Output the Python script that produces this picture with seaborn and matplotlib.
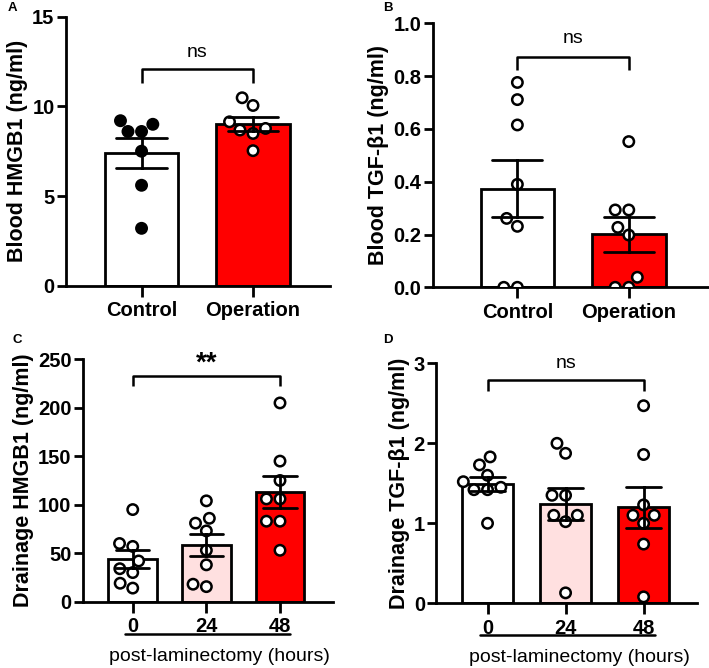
import numpy as np
import pandas as pd
import matplotlib
matplotlib.use("Agg")
import matplotlib.pyplot as plt
import matplotlib.transforms as mtrans
import seaborn as sns

# ---------------- data ----------------
a_groups = ["Control", "Operation"]
a_control = [9.0, 9.2, 8.6, 8.6, 7.5, 5.6, 3.2]
a_operation = [10.05, 10.48, 9.14, 8.68, 8.49, 8.77, 7.53]

b_groups = ["Control", "Operation"]
b_control = [0.776, 0.711, 0.615, 0.39, 0.231, 0.261, 0.0, 0.0]
b_operation = [0.552, 0.293, 0.293, 0.227, 0.198, 0.038, 0.0, 0.0]

c_groups = ["0", "24", "48"]
c_0 = [95, 57, 60, 42, 30, 34, 19, 14]
c_24 = [104, 86, 81, 73, 53, 38, 15.5, 18]
c_48 = [205, 145, 125, 106, 106, 83, 83, 53]

d_groups = ["0", "24", "48"]
d_0 = [1.83, 1.73, 1.6, 1.52, 1.42, 1.42, 1.45, 1.0]
d_24 = [2.0, 1.875, 1.35, 1.35, 1.1, 1.1, 1.02, 0.13]
d_48 = [2.47, 1.86, 1.23, 1.1, 1.1, 1.0, 0.74, 0.08]

y_labels = ["Blood HMGB1 (ng/ml)", "Blood TGF-\u03b21 (ng/ml)",
            "Drainage HMGB1 (ng/ml)", "Drainage TGF-\u03b21 (ng/ml)"]
panel_letters = ["A", "B", "C", "D"]
sig_labels = ["ns", "ns", "**", "ns"]
x_title = "post-laminectomy (hours)"

RED = "#FF0000"
PINK = "#FFE0E0"

sns.set_theme(style="ticks")
plt.rcParams["font.family"] = ["Liberation Sans", "DejaVu Sans"]

fig = plt.figure(figsize=(7.09, 6.68), dpi=100)


def make_df(groups, values):
    rows = []
    for g, vals in zip(groups, values):
        for v in vals:
            rows.append({"group": g, "value": v})
    return pd.DataFrame(rows)


def panel(rect, groups, values, bar_colors, point_colors, ylim, yticks,
          ytick_fmt, xlim, ylabel, sig, sig_y, leg_y, text_y,
          sig_bold, bottom_title=False):
    ax = fig.add_axes(rect)
    df = make_df(groups, values)
    pal = dict(zip(groups, bar_colors))
    sns.barplot(data=df, x="group", y="value", hue="group", order=groups,
                palette=pal, saturation=1, errorbar="se", capsize=0.45,
                width=0.66, edgecolor="black", linewidth=2.0, legend=False,
                err_kws={"linewidth": 2.0, "color": "black"}, ax=ax)
    err_lines = list(ax.lines)
    ppal = dict(zip(groups, point_colors))
    sns.swarmplot(data=df, x="group", y="value", hue="group", order=groups,
                  palette=ppal, size=7.5, edgecolor="black", linewidth=1.8,
                  legend=False, ax=ax, zorder=3)
    for ln in err_lines:
        ln.set_zorder(4)
    ax.set_xlim(*xlim)
    ax.set_ylim(*ylim)
    ax.set_yticks(yticks)
    ax.set_yticklabels([ytick_fmt.format(t) for t in yticks])
    for s in ["top", "right"]:
        ax.spines[s].set_visible(False)
    for s in ["left", "bottom"]:
        ax.spines[s].set_linewidth(2.0)
        ax.spines[s].set_color("black")
    ax.tick_params(axis="y", width=2.0, length=6.5, color="black",
                   labelsize=14.5, pad=1.5)
    ax.tick_params(axis="x", width=2.0, length=8, color="black",
                   labelsize=14.5, pad=3)
    for lab in ax.get_xticklabels() + ax.get_yticklabels():
        lab.set_fontweight("bold")
        lab.set_color("black")
    ax.set_xlabel("")
    ax.set_ylabel(ylabel, fontsize=15.5, fontweight="bold", color="black",
                  labelpad=3)
    # significance bracket
    x0, x1 = 0, len(groups) - 1
    ax.plot([x0, x0, x1, x1], [leg_y, sig_y, sig_y, leg_y], color="black",
            lw=1.8, clip_on=False, solid_capstyle="butt")
    ax.text((x0 + x1) / 2, text_y, sig, ha="center", va="center",
            fontsize=20 if sig_bold else 14,
            fontweight="bold" if sig_bold else "normal", color="black")
    if bottom_title:
        tr = mtrans.blended_transform_factory(ax.transData, ax.transAxes)
        ax.plot([-0.1, 2.14], [-0.133, -0.133], color="black", lw=1.8,
                transform=tr, clip_on=False)
        ax.text(1.18, -0.225, x_title, transform=tr, ha="center", va="center",
                fontsize=14, color="black")
    return ax


axA = panel([0.0927, 0.5723, 0.3727, 0.4027], a_groups, [a_control, a_operation],
            ["white", RED], ["black", "white"], (0, 15), [0, 5, 10, 15], "{:g}",
            (-0.68, 1.69), y_labels[0], sig_labels[0], 12.06, 11.3, 13.0, False)
axB = panel([0.6103, 0.5699, 0.3897, 0.3952], b_groups, [b_control, b_operation],
            ["white", RED], ["white", "white"], (0, 1.0),
            [0, 0.2, 0.4, 0.6, 0.8, 1.0], "{:.1f}",
            (-0.76, 1.72), y_labels[1], sig_labels[1], 0.871, 0.823, 0.943, False)
axC = panel([0.1166, 0.0993, 0.3531, 0.3628], c_groups, [c_0, c_24, c_48],
            ["white", PINK, RED], ["white", "white", "white"], (0, 250),
            [0, 50, 100, 150, 200, 250], "{:g}",
            (-0.68, 2.72), y_labels[2], sig_labels[2], 233, 222, 246, True,
            bottom_title=True)
axD = panel([0.615, 0.0969, 0.3676, 0.3592], d_groups, [d_0, d_24, d_48],
            ["white", PINK, RED], ["white", "white", "white"], (0, 3),
            [0, 1, 2, 3], "{:g}",
            (-0.66, 2.68), y_labels[3], sig_labels[3], 2.79, 2.65, 3.0, False,
            bottom_title=True)

for letter, (x, y) in zip(panel_letters, [(8, 8), (383, 8), (12, 340), (383, 340)]):
    fig.text(x / 709, 1 - y / 668, letter, fontsize=9.5, fontweight="bold",
             ha="left", va="center", color="black")

fig.savefig("out.png", dpi=100, facecolor="white")
